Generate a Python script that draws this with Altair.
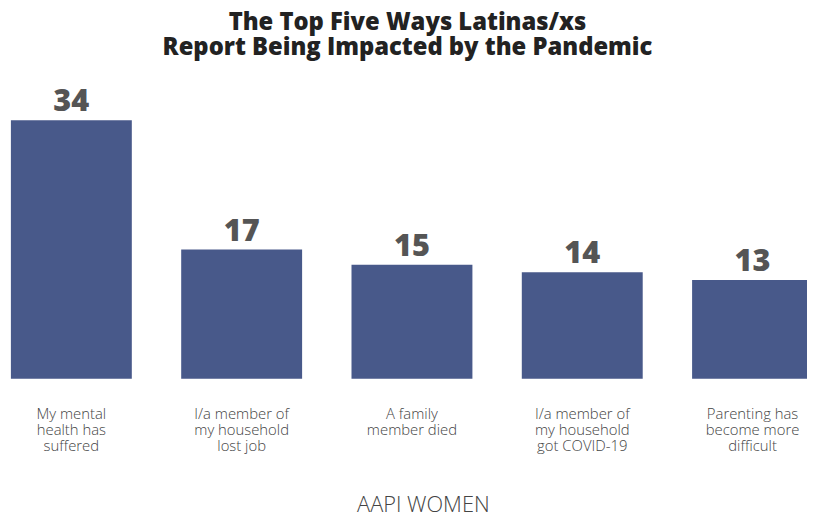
import altair as alt
import pandas as pd

categories = [
    "My mental|health has|suffered",
    "I/a member of|my household|lost job",
    "A family|member died",
    "I/a member of|my household|got COVID-19",
    "Parenting has|become more|difficult",
]
values = [34, 17, 15, 14, 13]

df = pd.DataFrame({"cat": categories, "val": values})

x = alt.X(
    "cat:N",
    sort=categories,
    scale=alt.Scale(range=[0, 816], paddingInner=0.29, paddingOuter=0.017),
    axis=alt.Axis(
        title="AAPI WOMEN",
        labelAngle=0,
        labelExpr="split(datum.label, '|')",
        labelFont="Open Sans",
        labelFontWeight=300,
        labelFontSize=15,
        labelColor="#444444",
        labelLineHeight=16,
        labelPadding=35,
        labelBaseline="middle",
        ticks=False,
        domain=False,
        titleFont="Open Sans",
        titleFontWeight=300,
        titleFontSize=22,
        titleColor="#444444",
        titlePadding=42,
        titleX=419,
    ),
)
y = alt.Y("val:Q", scale=alt.Scale(domain=[0, 38]), axis=None)

bars = alt.Chart(df).mark_bar(color="#48598a").encode(x=x, y=y)
labels = alt.Chart(df).mark_text(
    baseline="bottom", dy=-2, font="Open Sans", fontWeight=800, fontSize=31, color="#555555"
).encode(x=x, y=y, text="val:Q")

chart = (
    (bars + labels)
    .properties(
        width=807,
        height=292,
        padding={"left": 0, "top": 80, "right": 0, "bottom": 132},
        autosize=alt.AutoSizeParams(type="none"),
        title=alt.TitleParams(
            text=["The Top Five Ways Latinas/xs", "Report Being Impacted by the Pandemic"],
            font="Open Sans",
            fontWeight=800,
            fontSize=24,
            color="#222222",
            lineHeight=25,
            anchor="middle",
            offset=27,
        ),
    )
    .configure_view(stroke=None)
)

chart.save("out.html", embed_options={"renderer": "svg", "actions": False})
